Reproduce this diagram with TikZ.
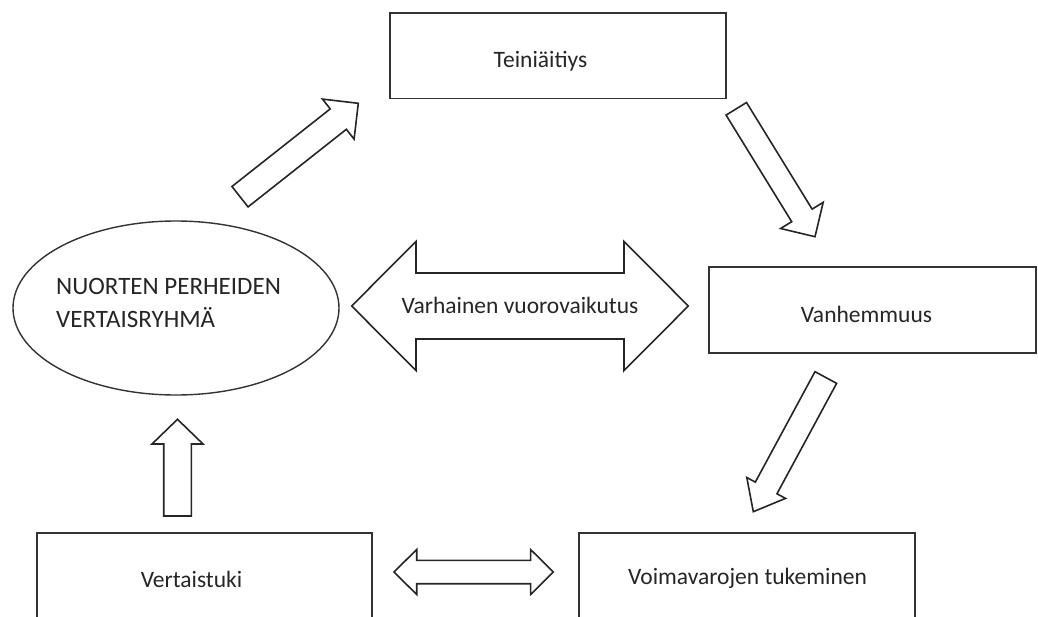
\documentclass[tikz,border=0pt]{standalone}
\usepackage{fontspec}
\setmainfont{Carlito}
\usetikzlibrary{calc}
\tikzset{
  box/.style={draw=black!80, line width=1.6pt, fill=white, inner sep=0pt},
  arr/.style={draw=black!85, line width=1.6pt, line join=miter, fill=white},
  lbl/.style={text=black!85, font=\fontsize{23.5}{31}\selectfont, inner sep=0pt},
  biglbl/.style={text=black!85, font=\fontsize{25}{33}\selectfont, inner sep=0pt},
}
% #1 from, #2 to, #3 shaft half width, #4 head half width, #5 head length
\newcommand\singleblockarrow[5]{%
  \path[arr] let \p1=($(#2)-(#1)$), \n1={atan2(\y1,\x1)}, \n2={veclen(\x1,\y1)} in
    [shift={(#1)}, rotate=\n1]
    (0pt,{-#3*1pt}) -- ({(\n2-#5)*1pt},{-#3*1pt}) -- ({(\n2-#5)*1pt},{-#4*1pt})
    -- ({\n2*1pt},0pt) -- ({(\n2-#5)*1pt},{#4*1pt}) -- ({(\n2-#5)*1pt},{#3*1pt})
    -- (0pt,{#3*1pt}) -- cycle;}
\newcommand\doubleblockarrow[5]{%
  \path[arr] let \p1=($(#2)-(#1)$), \n1={atan2(\y1,\x1)}, \n2={veclen(\x1,\y1)} in
    [shift={(#1)}, rotate=\n1]
    (0pt,0pt) -- ({#5*1pt},{-#4*1pt}) -- ({#5*1pt},{-#3*1pt})
    -- ({(\n2-#5)*1pt},{-#3*1pt}) -- ({(\n2-#5)*1pt},{-#4*1pt})
    -- ({\n2*1pt},0pt) -- ({(\n2-#5)*1pt},{#4*1pt}) -- ({(\n2-#5)*1pt},{#3*1pt})
    -- ({#5*1pt},{#3*1pt}) -- ({#5*1pt},{#4*1pt}) -- cycle;}
\begin{document}
\begin{tikzpicture}[x=1pt, y=-1pt]
\useasboundingbox (0,0) rectangle (1038,616);
\fill[white] (0,0) rectangle (1038,616);
\clip (0,0) rectangle (1038,616);

% boxes
\node[box, minimum width=336pt, minimum height=85.5pt] (teini) at (558,55.75) {};
\node[box, minimum width=327pt, minimum height=86pt] (vanh) at (872.5,310) {};
\node[box, minimum width=335pt, minimum height=107pt] (vert) at (204.5,586.5) {};
\node[box, minimum width=336pt, minimum height=107pt] (voima) at (747,586.5) {};
\draw[black!80, line width=1.4pt] (176,308) ellipse [x radius=163, y radius=87];
\coordinate (ryhma) at (176,308);

% labels
\node[lbl, anchor=base] (teinit) at (540.5,67) {Teiniäitiys};
\node[lbl, anchor=base] (vanht) at (866.5,322) {Vanhemmuus};
\node[lbl, anchor=base] (vertt) at (191.5,587) {Vertaistuki};
\node[lbl, anchor=base] (voimat) at (747.5,584) {Voimavarojen tukeminen};
\node[biglbl, anchor=base west] (ryhma1) at (56,294) {NUORTEN PERHEIDEN};
\node[biglbl, anchor=base west] (ryhma2) at (56,327) {VERTAISRYHMÄ};

% arrow anchor points
\coordinate (a1s) at (240,196.7);   \coordinate (a1e) at (358.3,103.3);
\coordinate (a2s) at (736.3,108.8); \coordinate (a2e) at (815,236.7);
\coordinate (a3s) at (825.8,377.5); \coordinate (a3e) at (753.3,511.7);
\coordinate (a4s) at (177.5,516);   \coordinate (a4e) at (177.5,419.3);
\coordinate (a5s) at (351.7,306);   \coordinate (a5e) at (688.3,306);
\coordinate (a6s) at (394,572);     \coordinate (a6e) at (553.3,572);

\singleblockarrow{a1s}{a1e}{13}{25.5}{25.5}
\singleblockarrow{a2s}{a2e}{12}{25}{25}
\singleblockarrow{a3s}{a3e}{12.3}{22}{27}
\singleblockarrow{a4s}{a4e}{13.8}{25.5}{24.7}
\doubleblockarrow{a5s}{a5e}{33}{64.6}{64.3}
\doubleblockarrow{a6s}{a6e}{11.7}{22.5}{22.7}

\node[lbl, anchor=base] (varh) at (520,313) {Varhainen vuorovaikutus};
\end{tikzpicture}
\end{document}
